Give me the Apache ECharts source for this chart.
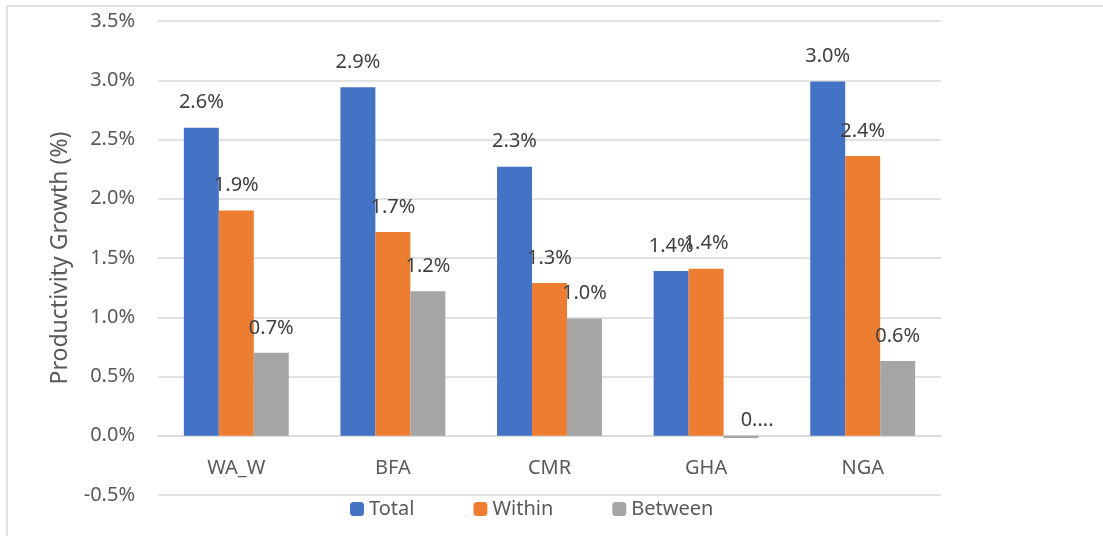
<!DOCTYPE html>
<html>
<head>
<meta charset="utf-8">
<script src="https://cdn.jsdelivr.net/npm/echarts@6/dist/echarts.min.js"></script>
<style>
  html, body { margin: 0; padding: 0; background: #fff; }
  #chart { width: 1103px; height: 536px; }
</style>
</head>
<body>
<div id="chart"></div>
<script>
// values in percent
const countries = ['WA_W', 'BFA', 'CMR', 'GHA', 'NGA']
const total = [2.60, 2.94, 2.27, 1.39, 2.99]
const within = [1.90, 1.72, 1.29, 1.41, 2.36]
const between = [0.70, 1.22, 0.99, -0.02, 0.63]
const yTicks = { min: -0.5, max: 3.5, step: 0.5 }

const font = 'Noto Sans'
const labelFmt = p => Math.abs(p.value) < 0.05 ? '0....' : p.value.toFixed(1) + '%'

function barSeries (name, data, color) {
  return {
    name: name,
    type: 'bar',
    // the tiny negative bar gets its label nudged like Excel does
    data: data.map(v => v < 0 ? { value: v, label: { offset: [16, 10] } } : v),
    barGap: '0%',
    barCategoryGap: '33%',
    itemStyle: { color: color },
    label: {
      show: true,
      position: 'top',
      distance: 15,
      color: '#404040',
      fontFamily: font,
      fontSize: 20,
      formatter: labelFmt
    }
  }
}

const chart = echarts.init(document.getElementById('chart'))
chart.setOption({
  animation: false,
  textStyle: { fontFamily: font },
  graphic: [{
    type: 'rect',
    shape: { x: 7, y: 6, width: 1200, height: 600 },
    style: { fill: 'none', stroke: '#d9d9d9', lineWidth: 1.5 },
    silent: true
  }],
  grid: { left: 158, right: 162, top: 21, bottom: 41 },
  legend: {
    left: 345,
    top: 494,
    itemWidth: 14,
    itemHeight: 14,
    itemGap: 59,
    textStyle: { color: '#595959', fontSize: 20, fontFamily: font },
    data: ['Total', 'Within', 'Between']
  },
  xAxis: {
    type: 'category',
    data: countries,
    axisLine: { onZero: true, lineStyle: { color: '#d9d9d9', width: 1.5 } },
    axisTick: { show: false },
    // labels sit just under the 0% line, as in the original
    axisLabel: { color: '#595959', fontSize: 20, fontFamily: font, margin: -37 }
  },
  yAxis: {
    type: 'value',
    min: yTicks.min,
    max: yTicks.max,
    interval: yTicks.step,
    name: 'Productivity Growth (%)',
    nameLocation: 'middle',
    nameGap: 86,
    nameTextStyle: { color: '#595959', fontSize: 23, fontFamily: font },
    axisLine: { show: false },
    axisTick: { show: false },
    axisLabel: {
      color: '#595959',
      fontSize: 20,
      fontFamily: font,
      margin: 23,
      formatter: v => v.toFixed(1) + '%'
    },
    splitLine: { lineStyle: { color: '#d9d9d9', width: 1.5 } }
  },
  series: [
    barSeries('Total', total, '#4472c4'),
    barSeries('Within', within, '#ed7d31'),
    barSeries('Between', between, '#a5a5a5')
  ]
})
</script>
</body>
</html>
